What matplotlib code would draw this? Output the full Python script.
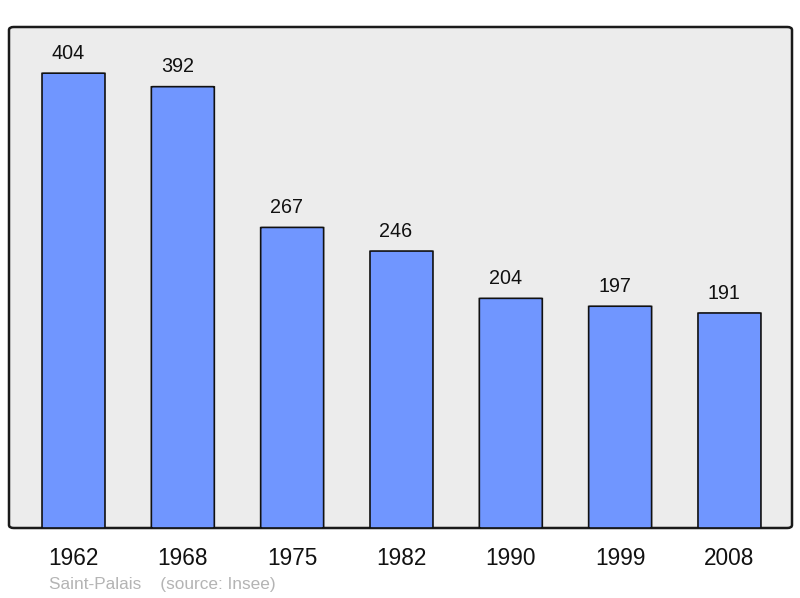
import matplotlib
matplotlib.use("Agg")
from matplotlib import pyplot as plt
from matplotlib.patches import FancyBboxPatch

years = ["1962", "1968", "1975", "1982", "1990", "1999", "2008"]
population = [404, 392, 267, 246, 204, 197, 191]

plt.rcParams['font.family'] = ['Liberation Sans', 'DejaVu Sans']

fig = plt.figure(figsize=(8, 5.98), dpi=100)
ax = fig.add_axes([9 / 800, 1 - 528 / 598, 783 / 800, 501 / 598])
ax.set_xlim(-0.59, 6.572)
ax.set_ylim(0, 445)
ax.patch.set_visible(False)
for s in ax.spines.values():
    s.set_visible(False)
ax.set_xticks([])
ax.set_yticks([])

# rounded frame
frame = FancyBboxPatch((0, 0), 1, 1, boxstyle="round,pad=0,rounding_size=0.006",
                       transform=ax.transAxes, facecolor="#ececec",
                       edgecolor="#1a1a1a", linewidth=1.8, zorder=0, clip_on=False)
ax.add_patch(frame)

w = 0.576
for i, v in enumerate(population):
    bar = FancyBboxPatch((i - w / 2, 0), w, v,
                         boxstyle="round,pad=0,rounding_size=0.02",
                         mutation_aspect=8,
                         facecolor="#7096ff", edgecolor="#111111",
                         linewidth=1.2, zorder=2)
    ax.add_patch(bar)
    ax.annotate(str(v), (i, v), xytext=(-4, 7.5), textcoords="offset points",
                ha="center", va="bottom", fontsize=14.2, color="#111111")
    ax.text(i, -0.038, years[i], transform=ax.get_xaxis_transform(),
            ha="center", va="top", fontsize=16.3, color="#111111")

fig.text(49 / 800, 1 - 584 / 598, "Saint-Palais    (source: Insee)",
         ha="left", va="center", fontsize=12.4, color="#b4b4b4")

fig.savefig("out.png", dpi=100)
